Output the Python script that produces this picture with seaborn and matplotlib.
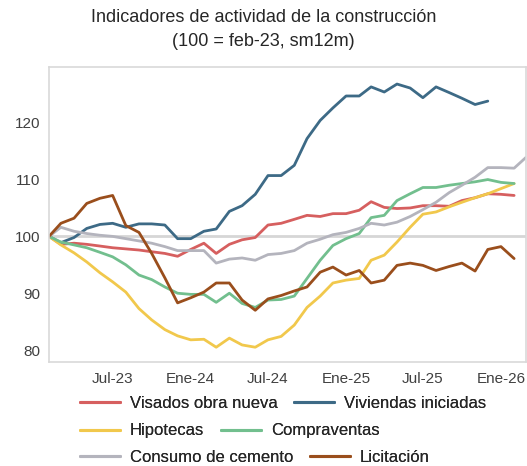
import pandas as pd
import seaborn as sns
import matplotlib.pyplot as plt
from matplotlib.lines import Line2D

# ---------------------------------
# datos (indice 100 = feb-23, sm12m)
# ---------------------------------
fechas = pd.date_range('2023-02-01', periods=38, freq='MS')

visados = [100, 98.6, 98.8, 98.6, 98.3, 98.0, 97.8, 97.6, 97.3, 97.0, 96.5, 97.7,
           98.8, 97.0, 98.6, 99.4, 99.8, 102.0, 102.3, 103.0, 103.7, 103.5, 104.0,
           104.0, 104.6, 106.1, 105.1, 104.9, 105.0, 105.4, 105.4, 105.3, 106.3,
           106.8, 107.5, 107.4, 107.2]
viviendas = [100, 98.9, 99.8, 101.4, 102.1, 102.3, 101.6, 102.2, 102.2, 102.0, 99.6,
             99.6, 100.9, 101.3, 104.4, 105.4, 107.4, 110.7, 110.7, 112.5, 117.2,
             120.4, 122.6, 124.7, 124.7, 126.3, 125.4, 126.8, 126.1, 124.4, 126.3,
             125.3, 124.3, 123.2, 123.8]
hipotecas = [100, 98.5, 97.1, 95.5, 93.6, 92.0, 90.2, 87.3, 85.3, 83.6, 82.5, 81.8,
             81.9, 80.5, 82.1, 80.9, 80.5, 81.8, 82.4, 84.4, 87.5, 89.5, 91.8, 92.3,
             92.6, 95.8, 96.7, 99.0, 101.6, 103.9, 104.3, 105.2, 106.0, 106.8, 107.5,
             108.4, 109.3]
compraventas = [100, 99.0, 98.5, 98.0, 97.2, 96.4, 95.0, 93.2, 92.4, 91.1, 90.0, 89.8,
                89.8, 88.4, 90.0, 88.2, 87.5, 88.8, 88.9, 89.5, 92.6, 95.8, 98.4, 99.6,
                100.5, 103.3, 103.7, 106.3, 107.5, 108.6, 108.6, 109.0, 109.3, 109.6,
                110.0, 109.5, 109.3]
cemento = [100, 101.6, 100.9, 100.5, 100.2, 100.0, 99.6, 99.2, 98.8, 98.2, 97.5, 97.5,
           97.5, 95.3, 96.0, 96.2, 95.8, 96.8, 97.0, 97.5, 98.8, 99.5, 100.3, 100.7,
           101.4, 102.3, 102.0, 102.5, 103.5, 104.7, 106.0, 107.7, 109.0, 110.4, 112.1,
           112.1, 112.0, 113.9]
licitacion = [100, 102.3, 103.2, 105.8, 106.7, 107.2, 101.9, 100.7, 97.0, 92.7, 88.3,
              89.2, 90.2, 91.8, 91.8, 88.8, 87.0, 89.0, 89.6, 90.4, 91.1, 93.7, 94.6,
              93.2, 94.0, 91.8, 92.3, 94.9, 95.3, 94.9, 94.0, 94.7, 95.3, 93.9, 97.7,
              98.2, 96.1]

tick_idx = [5, 11, 17, 23, 29, 35]
tick_labels = ['Jul-23', 'Ene-24', 'Jul-24', 'Ene-25', 'Jul-25', 'Ene-26']

series = {'Visados obra nueva': visados,
          'Viviendas iniciadas': viviendas,
          'Hipotecas': hipotecas,
          'Compraventas': compraventas,
          'Consumo de cemento': cemento,
          'Licitación': licitacion}

colores = {'Visados obra nueva': '#d65f5f',
           'Viviendas iniciadas': '#3d6a86',
           'Hipotecas': '#f1c84c',
           'Compraventas': '#72bf8e',
           'Consumo de cemento': '#b4b4bd',
           'Licitación': '#9a4e1c'}

frames = []
for nombre, valores in series.items():
    frames.append(pd.DataFrame({'fecha': fechas[:len(valores)],
                                'valor': valores,
                                'serie': nombre}))
df = pd.concat(frames, ignore_index=True)

# ---------------------------------
# grafico
# ---------------------------------
sns.set_theme(style='white')
plt.rcParams['font.family'] = ['Liberation Sans', 'DejaVu Sans']

fig = plt.figure(figsize=(5.27, 4.66), dpi=100)
ax = fig.add_axes([49 / 527, 1 - 362 / 466, 477 / 527, 295 / 466])

ax.axhline(100, color='#d6d6d6', linewidth=2, zorder=1)
sns.lineplot(data=df, x='fecha', y='valor', hue='serie',
             hue_order=list(series), palette=colores,
             linewidth=2, errorbar=None, legend=False, ax=ax, zorder=2)

ax.set_xlim(fechas[0], fechas[37])
ax.set_ylim(77.9, 129.8)
ax.set_yticks([80, 90, 100, 110, 120])
ax.set_xticks(fechas[tick_idx])
ax.set_xticklabels(tick_labels)
ax.set_xlabel('')
ax.set_ylabel('')
ax.tick_params(axis='both', length=0, labelsize=11, colors='#404040')
ax.tick_params(axis='x', pad=7)
ax.tick_params(axis='y', pad=6)
for spine in ax.spines.values():
    spine.set_visible(True)
    spine.set_color('#d9d9d9')
    spine.set_linewidth(1.2)

fig.text(0.5, 1 - 18 / 466, 'Indicadores de actividad de la construcción',
         ha='center', va='center', fontsize=13, color='#262626')
fig.text(0.5, 1 - 42 / 466, '(100 = feb-23, sm12m)',
         ha='center', va='center', fontsize=13, color='#262626')

# leyenda en tres filas, alineada a la izquierda
nombres = list(series)
filas = [nombres[0:2], nombres[2:4], nombres[4:6]]
filas_y = [403, 431, 457]
for fila, ypix in zip(filas, filas_y):
    handles = [Line2D([0], [0], color=colores[n], linewidth=2.2) for n in fila]
    leg = fig.legend(handles=handles, labels=fila, ncol=2, loc='center left',
                     bbox_to_anchor=(80 / 527, 1 - ypix / 466), frameon=False,
                     fontsize=12, handlelength=2.4, handletextpad=0.6,
                     columnspacing=1.0, borderpad=0, borderaxespad=0)
    for t in leg.get_texts():
        t.set_color('#262626')
    fig.add_artist(leg)

fig.savefig('out.png', dpi=100)
